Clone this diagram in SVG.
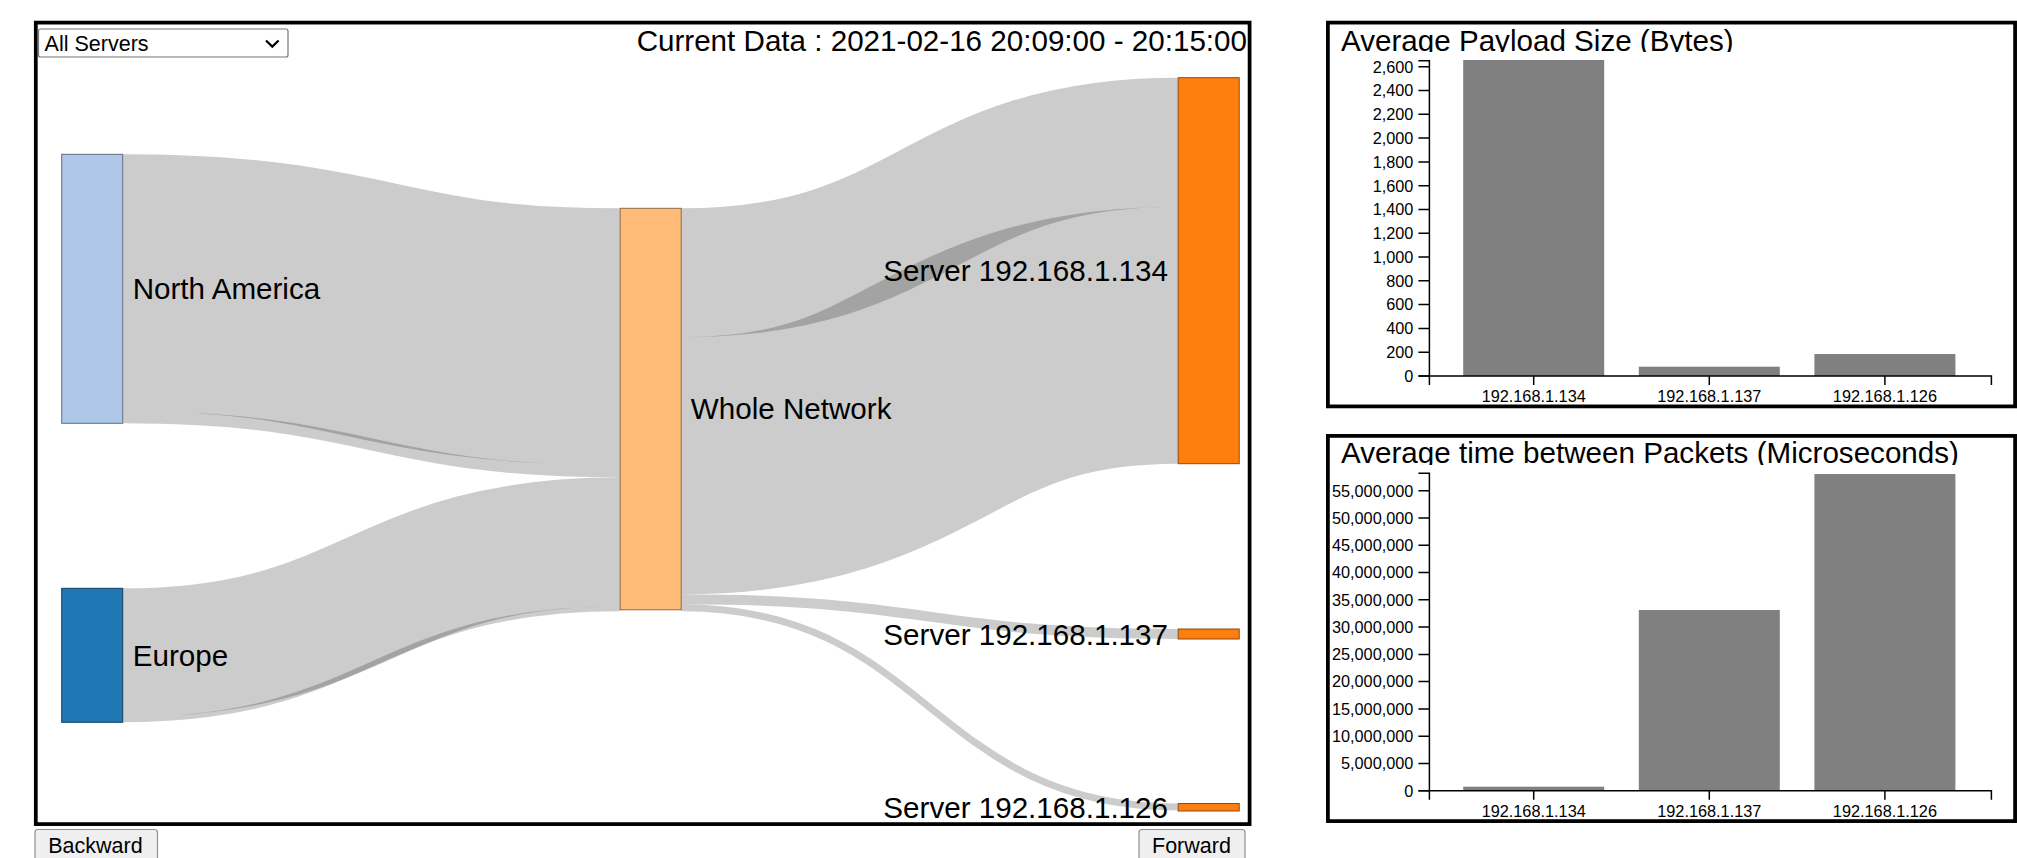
<svg xmlns="http://www.w3.org/2000/svg" width="2017" height="858" viewBox="0 0 2017 858">
  <style>
    text { font-family: "Liberation Sans", Arial, sans-serif; fill: #000; }
    .frame { fill: #fff; stroke: #000; stroke-width: 3.75; }
    .link { fill: none; stroke: #000; stroke-opacity: 0.2; }
    .node rect { stroke-width: 1; }
    .label { font-size: 29.6px; }
    .title { font-size: 29.6px; }
    .ctrl { font-size: 21.5px; }
    .axis path, .axis line { fill: none; stroke: #000; stroke-width: 1.5; }
    .axis text { font-size: 16.3px; }
    .bar { fill: #808080; }
  </style>
  <defs>
    <clipPath id="clip-title-payload"><rect x="1330" y="24" width="680" height="28"/></clipPath>
    <clipPath id="clip-title-interval"><rect x="1330" y="438" width="680" height="27"/></clipPath>
  </defs>

  <!-- Sankey panel -->
  <rect class="frame" x="35.8" y="22.6" width="1213.8" height="801.5"/>

  <!-- server picker -->
  <g id="server-select">
    <rect x="38.5" y="29" width="249.5" height="28" rx="2" fill="#fff" stroke="#767676" stroke-width="1.2"/>
    <text class="ctrl" x="44.6" y="50.7">All Servers</text>
    <path d="M266,40.5 L272.3,46.6 L278.6,40.5" fill="none" stroke="#000" stroke-width="2.2"/>
  </g>

  <text id="current-data" class="title" x="1247" y="50.7" text-anchor="end">Current Data : 2021-02-16 20:09:00 - 20:15:00</text>

  <!-- flows -->
  <g id="links">
    <path class="link" stroke-width="257" d="M122.7,282.8 C371.45,282.8 371.45,336.8 620.2,336.8"/>
    <path class="link" stroke-width="12" d="M122.7,417.3 C371.45,417.3 371.45,471.3 620.2,471.3"/>
    <path class="link" stroke-width="129" d="M122.7,652.8 C371.45,652.8 371.45,541.8 620.2,541.8"/>
    <path class="link" stroke-width="5" d="M122.7,719.8 C371.45,719.8 371.45,608.8 620.2,608.8"/>
    <path class="link" stroke-width="129" d="M681.2,272.8 C929.7,272.8 929.7,142.2 1178.2,142.2"/>
    <path class="link" stroke-width="257" d="M681.2,465.8 C929.7,465.8 929.7,335.2 1178.2,335.2"/>
    <path class="link" stroke-width="10" d="M681.2,599.3 C929.7,599.3 929.7,634 1178.2,634"/>
    <path class="link" stroke-width="7" d="M681.2,607.8 C929.7,607.8 929.7,807 1178.2,807"/>
  </g>

  <g id="node-north-america" class="node">
    <rect x="61.7" y="154.3" width="61" height="269" fill="#aec7e8" stroke="#5f6f84"/>
    <text class="label" x="132.7" y="299.2">North America</text>
  </g>
  <g id="node-europe" class="node">
    <rect x="61.7" y="588.3" width="61" height="134" fill="#1f77b4" stroke="#123f60"/>
    <text class="label" x="132.7" y="665.7">Europe</text>
  </g>
  <g id="node-whole-network" class="node">
    <rect x="620.2" y="208.3" width="61" height="401.5" fill="#ffbb78" stroke="#8e6a46"/>
    <text class="label" x="690.8" y="419.2">Whole Network</text>
  </g>
  <g id="node-server-134" class="node">
    <rect x="1178.2" y="77.7" width="61" height="386" fill="#ff7f0e" stroke="#8a4a12"/>
    <text class="label" x="1168" y="281.2" text-anchor="end">Server 192.168.1.134</text>
  </g>
  <g id="node-server-137" class="node">
    <rect x="1178.2" y="629" width="61" height="10" fill="#ff7f0e" stroke="#8a4a12"/>
    <text class="label" x="1168" y="644.5" text-anchor="end">Server 192.168.1.137</text>
  </g>
  <g id="node-server-126" class="node">
    <rect x="1178.2" y="803.5" width="61" height="7.5" fill="#ff7f0e" stroke="#8a4a12"/>
    <text class="label" x="1168" y="817.5" text-anchor="end">Server 192.168.1.126</text>
  </g>

  <!-- navigation buttons -->
  <g id="btn-backward">
    <rect x="35" y="829.5" width="122.5" height="36" rx="3" fill="#efefef" stroke="#8f8f8f" stroke-width="1.2"/>
    <text class="ctrl" x="48.2" y="853.3">Backward</text>
  </g>
  <g id="btn-forward">
    <rect x="1139" y="829.5" width="106" height="36" rx="3" fill="#efefef" stroke="#8f8f8f" stroke-width="1.2"/>
    <text class="ctrl" x="1152" y="853.3">Forward</text>
  </g>

  <!-- Chart: average payload size -->
  <g id="chart-payload">
    <rect class="frame" x="1327.9" y="22.6" width="687.2" height="383.8"/>
    <text class="title" x="1341" y="50.6" clip-path="url(#clip-title-payload)">Average Payload Size (Bytes)</text>
    <rect class="bar" x="1463.2" y="60" width="141" height="316"/>
    <rect class="bar" x="1638.8" y="366.7" width="141" height="9.3"/>
    <rect class="bar" x="1814.4" y="354" width="141" height="22"/>
    <g class="axis" id="payload-y-axis">
      <path d="M1418.4,60.7 H1429.4 V376 H1418.4"/>
      <path d="M1418.4,376 H1429.4 M1418.4,352.2 H1429.4 M1418.4,328.4 H1429.4 M1418.4,304.6 H1429.4 M1418.4,280.8 H1429.4 M1418.4,257 H1429.4 M1418.4,233.3 H1429.4 M1418.4,209.5 H1429.4 M1418.4,185.7 H1429.4 M1418.4,161.9 H1429.4 M1418.4,138.1 H1429.4 M1418.4,114.3 H1429.4 M1418.4,90.5 H1429.4 M1418.4,66.7 H1429.4"/>
      <g text-anchor="end">
        <text x="1413.4" y="381.8">0</text>
        <text x="1413.4" y="358">200</text>
        <text x="1413.4" y="334.2">400</text>
        <text x="1413.4" y="310.4">600</text>
        <text x="1413.4" y="286.6">800</text>
        <text x="1413.4" y="262.8">1,000</text>
        <text x="1413.4" y="239.1">1,200</text>
        <text x="1413.4" y="215.3">1,400</text>
        <text x="1413.4" y="191.5">1,600</text>
        <text x="1413.4" y="167.7">1,800</text>
        <text x="1413.4" y="143.9">2,000</text>
        <text x="1413.4" y="120.1">2,200</text>
        <text x="1413.4" y="96.3">2,400</text>
        <text x="1413.4" y="72.5">2,600</text>
      </g>
    </g>
    <g class="axis" id="payload-x-axis">
      <path d="M1429.4,385 V376 H1991.4 V385"/>
      <path d="M1533.7,376 V385 M1709.3,376 V385 M1884.9,376 V385"/>
      <g text-anchor="middle">
        <text x="1533.7" y="401.7">192.168.1.134</text>
        <text x="1709.3" y="401.7">192.168.1.137</text>
        <text x="1884.9" y="401.7">192.168.1.126</text>
      </g>
    </g>
  </g>

  <!-- Chart: average time between packets -->
  <g id="chart-interval">
    <rect class="frame" x="1327.9" y="435.9" width="687.2" height="385.2"/>
    <text class="title" x="1341" y="463.3" clip-path="url(#clip-title-interval)">Average time between Packets (Microseconds)</text>
    <rect class="bar" x="1463.2" y="786.7" width="141" height="4"/>
    <rect class="bar" x="1638.8" y="610" width="141" height="180.7"/>
    <rect class="bar" x="1814.4" y="474" width="141" height="316.7"/>
    <g class="axis" id="interval-y-axis">
      <path d="M1418.4,473.3 H1429.4 V790.7 H1418.4"/>
      <path d="M1418.4,790.7 H1429.4 M1418.4,763.4 H1429.4 M1418.4,736.2 H1429.4 M1418.4,708.9 H1429.4 M1418.4,681.6 H1429.4 M1418.4,654.4 H1429.4 M1418.4,627.1 H1429.4 M1418.4,599.8 H1429.4 M1418.4,572.5 H1429.4 M1418.4,545.3 H1429.4 M1418.4,518 H1429.4 M1418.4,490.7 H1429.4"/>
      <g text-anchor="end">
        <text x="1413.4" y="796.5">0</text>
        <text x="1413.4" y="769.2">5,000,000</text>
        <text x="1413.4" y="742">10,000,000</text>
        <text x="1413.4" y="714.7">15,000,000</text>
        <text x="1413.4" y="687.4">20,000,000</text>
        <text x="1413.4" y="660.2">25,000,000</text>
        <text x="1413.4" y="632.9">30,000,000</text>
        <text x="1413.4" y="605.6">35,000,000</text>
        <text x="1413.4" y="578.3">40,000,000</text>
        <text x="1413.4" y="551.1">45,000,000</text>
        <text x="1413.4" y="523.8">50,000,000</text>
        <text x="1413.4" y="496.5">55,000,000</text>
      </g>
    </g>
    <g class="axis" id="interval-x-axis">
      <path d="M1429.4,799.7 V790.7 H1991.4 V799.7"/>
      <path d="M1533.7,790.7 V799.7 M1709.3,790.7 V799.7 M1884.9,790.7 V799.7"/>
      <g text-anchor="middle">
        <text x="1533.7" y="816.7">192.168.1.134</text>
        <text x="1709.3" y="816.7">192.168.1.137</text>
        <text x="1884.9" y="816.7">192.168.1.126</text>
      </g>
    </g>
  </g>
</svg>
